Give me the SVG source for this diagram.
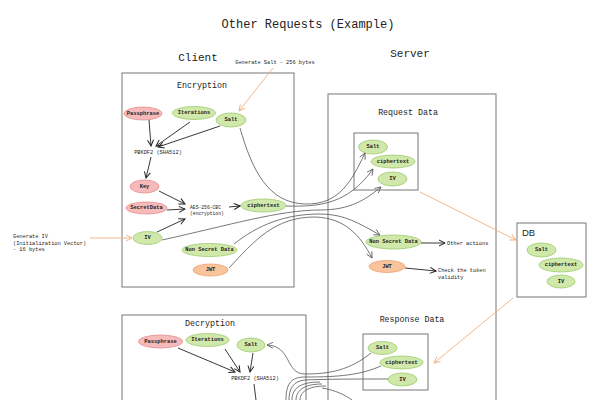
<svg xmlns="http://www.w3.org/2000/svg" width="600" height="400" viewBox="0 0 600 400">
<defs>
<style>
text{font-family:"Liberation Mono","DejaVu Sans Mono",monospace;fill:#222}
.t1{font-size:12px}
.t2{font-size:11px}
.t3{font-size:8.3px}
.sm{font-size:5.3px}
.lb{font-size:5.4px;font-weight:bold;text-anchor:middle;dominant-baseline:central}
.box{fill:none;stroke:#777;stroke-width:1}
.g{fill:#d0e9aa;stroke:#9dca6c;stroke-width:0.8}
.p{fill:#f6baba;stroke:#e48b8b;stroke-width:0.8}
.o{fill:#f9c39c;stroke:#eea070;stroke-width:0.8}
.cg{fill:none;stroke:#555;stroke-width:0.8}
.cd{fill:none;stroke:#222;stroke-width:0.9}
.co{fill:none;stroke:#f2b07f;stroke-width:0.9}
</style>
<marker id="ad" markerWidth="8" markerHeight="8" refX="7" refY="4" orient="auto" markerUnits="userSpaceOnUse"><path d="M1,1 L7,4 L1,7" fill="none" stroke="#222" stroke-width="1"/></marker>
<marker id="ag" markerWidth="8" markerHeight="8" refX="7" refY="4" orient="auto" markerUnits="userSpaceOnUse"><path d="M1,1 L7,4 L1,7" fill="none" stroke="#555" stroke-width="0.8"/></marker>
<marker id="ao" markerWidth="8" markerHeight="8" refX="7" refY="4" orient="auto" markerUnits="userSpaceOnUse"><path d="M1,1 L7,4 L1,7" fill="none" stroke="#f2b07f" stroke-width="0.9"/></marker>
</defs>
<rect width="600" height="400" fill="#fff"/>

<g id="titles">
<text class="t1" x="308" y="28" text-anchor="middle">Other Requests (Example)</text>
<text class="t2" x="198" y="61" text-anchor="middle">Client</text>
<text class="t2" x="410" y="57" text-anchor="middle">Server</text>
<text class="sm" x="275" y="64" text-anchor="middle">Generate Salt - 256 bytes</text>
<text class="sm" x="13" y="238">Generate IV</text>
<text class="sm" x="13" y="244.5">(Initialization Vector)</text>
<text class="sm" x="13" y="251">- 16 bytes</text>
</g>

<g id="encryption">
<rect class="box" x="122" y="73" width="172" height="214"/>
<text class="t3" x="202" y="88" text-anchor="middle">Encryption</text>
</g>
<g id="enc-passphrase"><ellipse class="p" cx="143" cy="113.5" rx="19" ry="6.5"/><text class="lb" x="143" y="113.5">Passphrase</text></g>
<g id="enc-iterations"><ellipse class="g" cx="194" cy="113" rx="21.5" ry="6.5"/><text class="lb" x="194" y="113">Iterations</text></g>
<g id="enc-salt"><ellipse class="g" cx="231" cy="120" rx="15" ry="7"/><text class="lb" x="231" y="120">Salt</text></g>
<g id="enc-pbkdf2"><text class="sm" x="158" y="154" text-anchor="middle">PBKDF2 (SHA512)</text></g>
<g id="enc-key"><ellipse class="p" cx="144.5" cy="186.5" rx="14.5" ry="6.5"/><text class="lb" x="144.5" y="186.5">Key</text></g>
<g id="enc-secretdata"><ellipse class="p" cx="146.5" cy="208" rx="20.5" ry="6"/><text class="lb" x="146.5" y="208">SecretData</text></g>
<g id="enc-aes"><text x="190" y="209" style="font-size:4.7px">AES-256-CBC</text><text x="190" y="215" style="font-size:4.7px">(encryption)</text></g>
<g id="enc-ciphertext"><ellipse class="g" cx="263.5" cy="205.5" rx="22.5" ry="6.5"/><text class="lb" x="263.5" y="205.5">ciphertext</text></g>
<g id="enc-iv"><ellipse class="g" cx="147.5" cy="238" rx="14.5" ry="6.5"/><text class="lb" x="147.5" y="238">IV</text></g>
<g id="enc-nonsecret"><ellipse class="g" cx="209.5" cy="250" rx="27.5" ry="6.5"/><text class="lb" x="209.5" y="250">Non Secret Data</text></g>
<g id="enc-jwt"><ellipse class="o" cx="210.5" cy="270" rx="17.5" ry="6"/><text class="lb" x="210.5" y="270">JWT</text></g>

<g id="server">
<rect class="box" x="328" y="94" width="168" height="330"/>
<text class="t3" x="408" y="115" text-anchor="middle">Request Data</text>
<text class="t3" x="412" y="322" text-anchor="middle">Response Data</text>
</g>
<g id="request-data">
<rect class="box" x="354" y="133" width="64" height="57"/>
</g>
<g id="req-salt"><ellipse class="g" cx="373" cy="147" rx="14.5" ry="7"/><text class="lb" x="373" y="147">Salt</text></g>
<g id="req-ciphertext"><ellipse class="g" cx="393" cy="161.5" rx="22" ry="6.5"/><text class="lb" x="393" y="161.5">ciphertext</text></g>
<g id="req-iv"><ellipse class="g" cx="392.5" cy="179" rx="14.5" ry="7"/><text class="lb" x="392.5" y="179">IV</text></g>
<g id="req-nonsecret"><ellipse class="g" cx="393.5" cy="242" rx="27.5" ry="7"/><text class="lb" x="393.5" y="242">Non Secret Data</text></g>
<g id="req-jwt"><ellipse class="o" cx="387" cy="266.5" rx="18" ry="6"/><text class="lb" x="387" y="266.5">JWT</text></g>
<g id="other-actions"><text class="sm" x="447" y="245">Other actions</text></g>
<g id="check-token"><text class="sm" x="438" y="272">Check the token</text><text class="sm" x="438" y="279">validity</text></g>

<g id="db">
<rect class="box" x="517" y="223" width="69" height="74"/>
<text x="522" y="236" style="font-family:'Liberation Sans',Arial,sans-serif;font-size:9.5px">DB</text>
</g>
<g id="db-salt"><ellipse class="g" cx="541.5" cy="250" rx="14.5" ry="7"/><text class="lb" x="541.5" y="250">Salt</text></g>
<g id="db-ciphertext"><ellipse class="g" cx="561" cy="265" rx="22" ry="7"/><text class="lb" x="561" y="265">ciphertext</text></g>
<g id="db-iv"><ellipse class="g" cx="561" cy="281.5" rx="14" ry="6.5"/><text class="lb" x="561" y="281.5">IV</text></g>

<g id="response-data">
<rect class="box" x="363" y="334" width="65" height="56"/>
</g>
<g id="res-salt"><ellipse class="g" cx="382.5" cy="348" rx="14.5" ry="6.5"/><text class="lb" x="382.5" y="348">Salt</text></g>
<g id="res-ciphertext"><ellipse class="g" cx="401.5" cy="362.5" rx="21.5" ry="6.5"/><text class="lb" x="401.5" y="362.5">ciphertext</text></g>
<g id="res-iv"><ellipse class="g" cx="402.5" cy="379.5" rx="14.5" ry="6.5"/><text class="lb" x="402.5" y="379.5">IV</text></g>

<g id="decryption">
<rect class="box" x="122" y="315" width="184" height="100"/>
<text class="t3" x="210" y="326" text-anchor="middle">Decryption</text>
</g>
<g id="dec-passphrase"><ellipse class="p" cx="160.5" cy="341.5" rx="22" ry="6.5"/><text class="lb" x="160.5" y="341.5">Passphrase</text></g>
<g id="dec-iterations"><ellipse class="g" cx="207.5" cy="340" rx="21.5" ry="6.5"/><text class="lb" x="207.5" y="340">Iterations</text></g>
<g id="dec-salt"><ellipse class="g" cx="251" cy="345" rx="14" ry="7"/><text class="lb" x="251" y="345">Salt</text></g>
<g id="dec-pbkdf2"><text class="sm" x="255" y="380" text-anchor="middle">PBKDF2 (SHA512)</text></g>

<g id="connectors">
<path class="cd" d="M149,120 L151,146" marker-end="url(#ad)"/>
<path class="cd" d="M190,122 L156,146" marker-end="url(#ad)"/>
<path class="cd" d="M220,126 L158,147" marker-end="url(#ad)"/>
<path class="cd" d="M151,157 L146,178" marker-end="url(#ad)"/>
<path class="cd" d="M159,191 L185,204" marker-end="url(#ad)"/>
<path class="cd" d="M167,210 L185,209" marker-end="url(#ad)"/>
<path class="cd" d="M157,232 L185,219" marker-end="url(#ad)"/>
<path class="cd" d="M229,207 L240,206" marker-end="url(#ad)"/>
<path class="cd" d="M421,243 L445,243" marker-end="url(#ad)"/>
<path class="cd" d="M405,268 L436,271" marker-end="url(#ad)"/>
<path class="cd" d="M178,348 L235,372" marker-end="url(#ad)"/>
<path class="cd" d="M225,349 L240,372" marker-end="url(#ad)"/>
<path class="cd" d="M253,353 L250,372" marker-end="url(#ad)"/>
<path class="cd" d="M254,384 L256,400"/>

<path class="co" d="M273,68 L239,111" marker-end="url(#ao)"/>
<path class="co" d="M90,238 L132,238" marker-end="url(#ao)"/>
<path class="co" d="M420,192 L516,240" marker-end="url(#ao)"/>
<path class="co" d="M513,298 L434,363" marker-end="url(#ao)"/>

<path class="cg" d="M240,128 C252,170 268,203 305,204 C340,205 352,180 365,153" marker-end="url(#ag)"/>
<path class="cg" d="M286,206 C320,207 348,204 373,169" marker-end="url(#ag)"/>
<path class="cg" d="M162,240 C230,225 280,210 320,210 C350,210 365,200 381,187" marker-end="url(#ag)"/>
<path class="cg" d="M234,244 C258,225 285,214 320,214 C345,214 360,224 380,235" marker-end="url(#ag)"/>
<path class="cg" d="M229,268 C255,240 275,217 315,217 C345,218 360,235 372,258" marker-end="url(#ag)"/>

<path class="cg" d="M371,353 C350,370 330,374 305,374 C285,374 292,346 267,345" marker-end="url(#ag)"/>
<path class="cg" d="M381,366 C360,375 340,377 305,377 C290,377 286,385 286,400"/>
<path class="cg" d="M388,379 C360,379 325,379 305,380 C293,381 289,389 289,400"/>
<path class="cg" d="M320,382 C298,382 292,390 292,400"/>
<path class="cg" d="M322,384 C302,384 296,392 296,400"/>
<path class="cg" d="M326,386 C306,386 300,393 300,400"/>
<path class="cg" d="M322,388 C335,390 345,395 352,400"/>
</g>
</svg>
